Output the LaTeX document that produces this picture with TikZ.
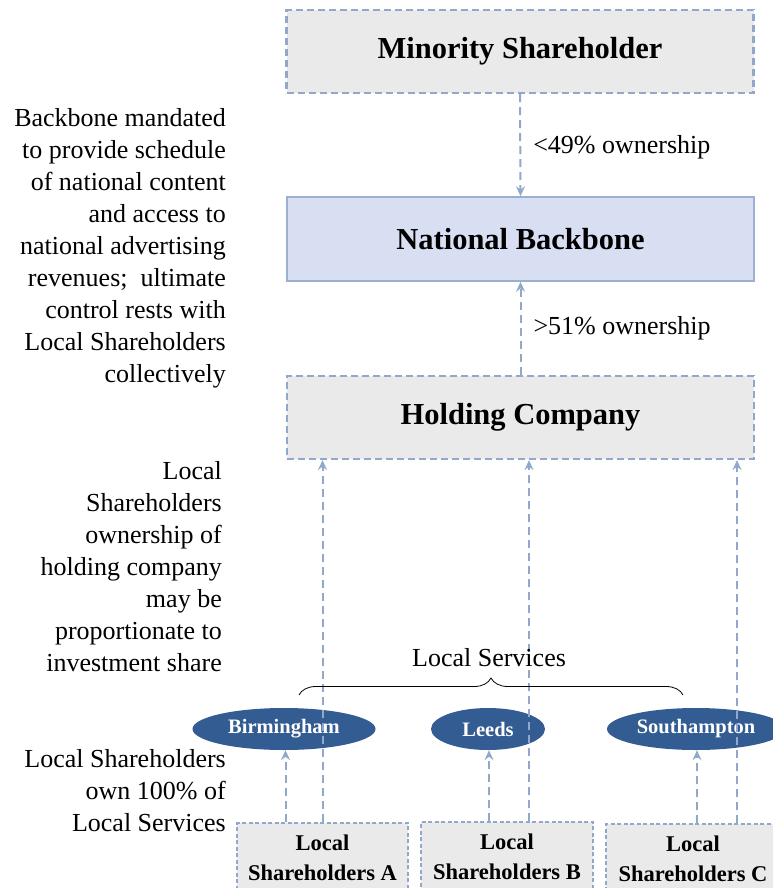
\documentclass[tikz,border=0pt]{standalone}
\usepackage{fontspec}
\setmainfont{Liberation Serif}
\usetikzlibrary{arrows.meta,shapes.geometric,decorations.pathreplacing}
\definecolor{bordercol}{HTML}{91A8CB}
\definecolor{boxfill}{HTML}{EAEAEA}
\definecolor{nbfill}{HTML}{D9DFF3}
\definecolor{nbborder}{HTML}{9BB0D0}
\definecolor{ellfill}{HTML}{335C93}
\tikzset{
  bigbox/.style={draw=bordercol, fill=boxfill, line width=2.2pt, dash pattern=on 7pt off 4pt,
    minimum width=467pt, minimum height=83pt, inner sep=0pt, font=\fontsize{30.5}{34}\selectfont\bfseries},
  nbbox/.style={draw=nbborder, fill=nbfill, line width=1.6pt,
    minimum width=467pt, minimum height=84pt, inner sep=0pt, font=\fontsize{30.5}{34}\selectfont\bfseries},
  lsbox/.style={draw=bordercol, fill=boxfill, line width=1.3pt, dash pattern=on 4pt off 2.5pt,
    minimum height=70pt, inner sep=0pt, align=center, font=\fontsize{22.5}{30}\selectfont\bfseries},
  city/.style={ellipse, fill=ellfill, minimum height=42pt, inner sep=0pt, text=white,
    font=\fontsize{20.5}{22}\selectfont\bfseries},
  conn/.style={draw=bordercol, line width=2pt, dash pattern=on 8pt off 5pt,
    -{Stealth[length=10pt,width=9pt,inset=3.5pt]}},
  note/.style={inner sep=0pt, align=right, font=\fontsize{26}{32}\selectfont},
  lbl/.style={inner sep=0pt, font=\fontsize{26}{32}\selectfont}
}
\begin{document}
\begin{tikzpicture}[x=1pt,y=-1pt]
\useasboundingbox (0,0) rectangle (772,888);
% main boxes
\node[bigbox] (min) at (520,51.5) {Minority Shareholder};
\node[nbbox] (nb) at (520.5,239) {National Backbone};
\node[bigbox] (hold) at (520.5,417.5) {Holding Company};
% local shareholder boxes
\node[lsbox, minimum width=171pt] (lsA) at (322.5,858) {Local\\Shareholders A};
\node[lsbox, minimum width=172pt] (lsB) at (507,857) {Local\\Shareholders B};
\node[lsbox, minimum width=174pt] (lsC) at (693,859) {Local\\Shareholders C};
% cities
\node[city, minimum width=183pt] (birm) at (284,729) {Birmingham};
\node[city, minimum width=114pt] (leeds) at (488,729) {Leeds};
\node[city, minimum width=178pt] (south) at (696,729) {Southampton};
% ownership connectors
\draw[conn] (min.south) -- (nb.north) node[lbl, pos=0.52, anchor=west, xshift=12pt] {<49\% ownership};
\draw[conn] (hold.north) -- (nb.south) node[lbl, pos=0.5, anchor=west, xshift=12pt] {>51\% ownership};
% local shareholders to holding company
\draw[conn] (lsA.north) -- (lsA.north |- hold.south);
\draw[conn] ([xshift=22pt]lsB.north) -- ([xshift=22pt]lsB.north |- hold.south);
\draw[conn] ([xshift=44pt]lsC.north) -- ([xshift=44pt]lsC.north |- hold.south);
% local shareholders to cities
\draw[conn] ([xshift=-37pt]lsA.north) -- ([xshift=-37pt]lsA.north |- birm.south);
\draw[conn] ([xshift=-18pt]lsB.north) -- ([xshift=-18pt]lsB.north |- leeds.south);
\draw[conn] ([xshift=4pt]lsC.north) -- ([xshift=4pt]lsC.north |- south.south);
% brace
\coordinate (brL) at (299,695);
\coordinate (brR) at (683,695);
\draw[line width=0.8pt, decorate, decoration={brace, amplitude=17pt}] (brL) -- (brR);
\node[lbl, anchor=base] (ls) at (489,666) {Local Services};
% notes
\node[note, anchor=north east] (n1) at (226,108) {Backbone mandated\\to provide schedule\\of national content\\and access to\\national advertising\\revenues;\ \ ultimate\\control rests with\\Local Shareholders\\collectively};
\node[note, anchor=north east] (n2) at (222,461) {Local\\Shareholders\\ownership of\\holding company\\may be\\proportionate to\\investment share};
\node[note, anchor=north east] (n3) at (226,749) {Local Shareholders\\own 100\% of\\Local Services};
\end{tikzpicture}
\end{document}
